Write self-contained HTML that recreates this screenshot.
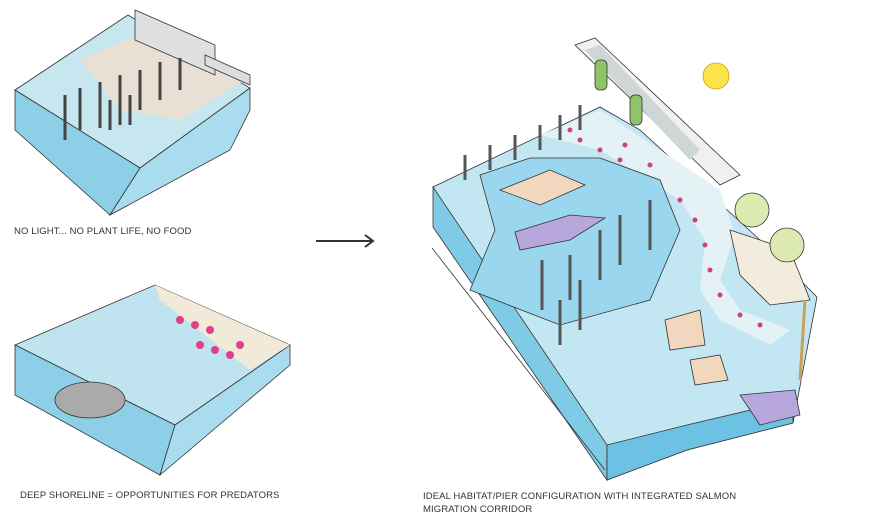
<!DOCTYPE html>
<html><head><style>
body{margin:0;background:#fff;width:882px;height:526px;overflow:hidden;font-family:"Liberation Sans",sans-serif}
.t{position:absolute;font-size:9.5px;color:#333;letter-spacing:0.1px}
</style></head><body>
<svg width="882" height="526" style="position:absolute;left:0;top:0" stroke="#333" stroke-width="0.8">
<!-- top-left block -->
<polygon points="15,90 128,15 250,88 140,168" fill="#c6e6f0"/>
<polygon points="15,90 140,168 110,215 15,130" fill="#8dcfe6"/>
<polygon points="140,168 250,88 250,110 230,150 110,215" fill="#a8dcee"/>
<polygon points="80,60 160,25 245,80 180,120 120,110" fill="#e8e0d4" stroke="none"/>
<polygon points="135,10 215,45 215,75 135,40" fill="#e0e0e0"/>
<polygon points="205,55 250,75 250,85 205,65" fill="#ddd"/>
<g stroke="#444" stroke-width="3" fill="none">
<line x1="65" y1="95" x2="65" y2="140"/><line x1="80" y1="88" x2="80" y2="130"/><line x1="100" y1="82" x2="100" y2="128"/><line x1="120" y1="75" x2="120" y2="125"/><line x1="140" y1="70" x2="140" y2="110"/><line x1="160" y1="62" x2="160" y2="100"/><line x1="180" y1="58" x2="180" y2="90"/><line x1="110" y1="100" x2="110" y2="130"/><line x1="130" y1="95" x2="130" y2="125"/>
</g>
<!-- bottom-left block -->
<polygon points="15,345 155,285 290,345 175,425" fill="#bfe4f0"/>
<polygon points="15,345 175,425 160,475 15,395" fill="#8dcfe6"/>
<polygon points="175,425 290,345 290,365 160,475" fill="#a8dcee"/>
<polygon points="155,285 290,345 250,370 160,300" fill="#f1ead9" stroke="none"/>
<ellipse cx="90" cy="400" rx="35" ry="18" fill="#aaa"/>
<g fill="#e0408a" stroke="none"><circle cx="180" cy="320" r="4"/><circle cx="195" cy="325" r="4"/><circle cx="210" cy="330" r="4"/><circle cx="200" cy="345" r="4"/><circle cx="215" cy="350" r="4"/><circle cx="230" cy="355" r="4"/><circle cx="240" cy="345" r="4"/></g>
<!-- arrow -->
<line x1="316" y1="241" x2="372" y2="241" stroke="#333" stroke-width="2"/>
<polyline points="365,235 373,241 365,247" fill="none" stroke="#333" stroke-width="2"/>
<!-- right big block -->
<polygon points="433,187 600,107 640,130 760,240 817,297 793,423 687,450 607,480" fill="#c3e6f3"/>
<polygon points="433,187 433,227 607,480 607,445" fill="#7fcbe6"/>
<polygon points="607,445 687,425 793,400 793,423 687,450 607,480" fill="#6dc2e3"/>
<!-- sand corridor -->
<path d="M540,135 L600,110 L720,190 L735,235 L720,280 L740,310 L790,330 L770,345 L720,320 L700,290 L705,240 L680,200 L600,150 Z" fill="#e4f1f5" stroke="none"/>
<g fill="#d0407a" stroke="none"><circle cx="580" cy="140" r="2.5"/><circle cx="600" cy="150" r="2.5"/><circle cx="620" cy="160" r="2.5"/><circle cx="640" cy="175" r="2.5"/><circle cx="660" cy="185" r="2.5"/><circle cx="680" cy="200" r="2.5"/><circle cx="695" cy="220" r="2.5"/><circle cx="705" cy="245" r="2.5"/><circle cx="710" cy="270" r="2.5"/><circle cx="720" cy="295" r="2.5"/><circle cx="740" cy="315" r="2.5"/><circle cx="760" cy="325" r="2.5"/><circle cx="570" cy="130" r="2.5"/><circle cx="625" cy="145" r="2.5"/><circle cx="650" cy="165" r="2.5"/></g>
<polygon points="480,175 530,158 600,158 660,180 680,230 650,300 560,325 470,290 495,230" fill="#9ad6ee"/>
<polygon points="500,190 550,170 585,185 540,205" fill="#f2d7bf"/>
<polygon points="515,232 570,215 605,218 570,240 520,250" fill="#b7a7dc"/>
<polygon points="730,230 790,250 810,300 770,305 740,275" fill="#f2ecdc"/>
<polygon points="665,320 700,310 705,345 670,350" fill="#f2d7bf"/>
<polygon points="690,360 720,355 728,380 695,385" fill="#f2d7bf"/>
<polygon points="740,395 795,390 800,415 760,425" fill="#b7a7dc"/>
<!-- wall -->
<polygon points="575,45 595,38 740,175 720,185" fill="#f0f0f0"/>
<polygon points="585,50 600,45 700,150 690,160" fill="#cfd6d6" stroke="none"/>
<g stroke="#555" stroke-width="3"><line x1="542" y1="260" x2="542" y2="310"/><line x1="570" y1="255" x2="570" y2="300"/><line x1="600" y1="230" x2="600" y2="280"/><line x1="620" y1="215" x2="620" y2="265"/><line x1="650" y1="200" x2="650" y2="250"/><line x1="580" y1="280" x2="580" y2="330"/><line x1="560" y1="300" x2="560" y2="345"/><line x1="465" y1="155" x2="465" y2="180"/><line x1="490" y1="145" x2="490" y2="170"/><line x1="515" y1="135" x2="515" y2="160"/><line x1="540" y1="125" x2="540" y2="150"/><line x1="560" y1="115" x2="560" y2="140"/><line x1="580" y1="105" x2="580" y2="130"/></g>
<circle cx="716" cy="76" r="13" fill="#fbe54a" stroke="#d8a500"/>
<rect x="595" y="60" width="12" height="30" rx="5" fill="#8fc46a"/><rect x="630" y="95" width="12" height="30" rx="5" fill="#8fc46a"/>
<circle cx="752" cy="210" r="17" fill="#dce9b0"/><circle cx="787" cy="245" r="17" fill="#dce9b0"/>
<line x1="805" y1="300" x2="800" y2="380" stroke="#c9a15a" stroke-width="3"/>
<line x1="432" y1="248" x2="605" y2="470" stroke="#333"/>
</svg>
<div class="t" style="left:14px;top:226px">NO LIGHT... NO PLANT LIFE, NO FOOD</div>
<div class="t" style="left:20px;top:490px">DEEP SHORELINE = OPPORTUNITIES FOR PREDATORS</div>
<div class="t" style="left:423px;top:490px;line-height:13px">IDEAL HABITAT/PIER CONFIGURATION WITH INTEGRATED SALMON<br>MIGRATION CORRIDOR</div>
</body></html>
